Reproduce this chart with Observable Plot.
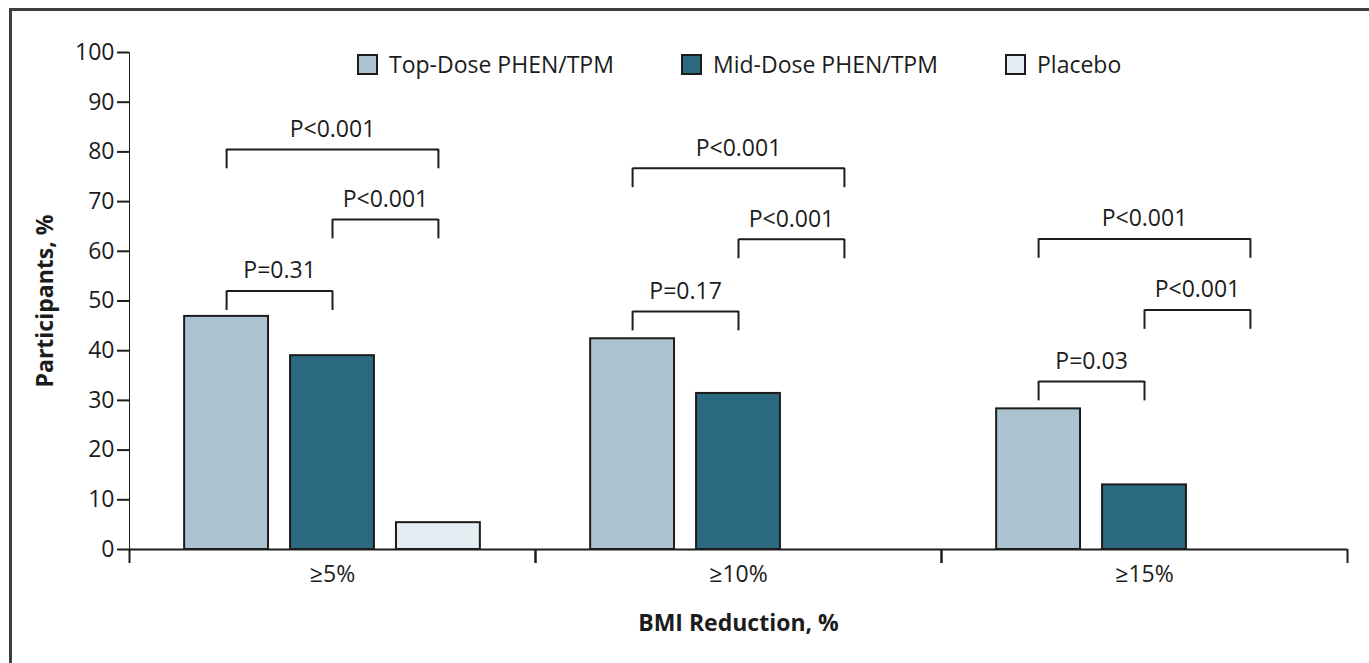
<!DOCTYPE html>
<html>
<head>
<meta charset="utf-8">
<script src="https://cdn.jsdelivr.net/npm/d3@7"></script>
<script src="https://cdn.jsdelivr.net/npm/@observablehq/plot@0.6"></script>
<style>
  html, body { margin: 0; padding: 0; background: #fff; overflow: hidden; }
  #wrap { position: relative; width: 1369px; height: 663px; overflow: hidden; }
  #border { position: absolute; left: 9px; top: 8px; width: 1420px; height: 720px; border: 3px solid #3e3e3e; box-sizing: border-box; }
  #chart { position: absolute; left: 0; top: 0; }
  .item { position: absolute; top: 53px; height: 22px; display: flex; align-items: center; font-family: "Open Sans", sans-serif; font-size: 23px; color: #1c1c1c; white-space: nowrap; }
  .sw { width: 21px; height: 21px; box-sizing: border-box; border: 2px solid #1c1c1c; margin-right: 11px; }
  #chart svg g[aria-label^="y-axis"] path, #chart svg g[aria-label^="y-axis"] line { stroke-width: 2px; }
</style>
</head>
<body>
<div id="wrap">
  <div id="border"></div>
  <div id="chart"></div>
  <div id="legend"></div>
</div>
<script>
// ---- data ----
const groups = ["≥5%", "≥10%", "≥15%"];
const series = ["Top-Dose PHEN/TPM", "Mid-Dose PHEN/TPM", "Placebo"];
const topDose = [46.9, 42.4, 28.3];
const midDose = [39.0, 31.4, 13.0];
const placebo = [5.4, 0, 0];
const colors = ["#abc3d1", "#2b6980", "#e4edf1"];
const yTicks = [0, 10, 20, 30, 40, 50, 60, 70, 80, 90, 100];

// significance brackets (series index from -> to)
const bracketGroup = ["≥5%", "≥5%", "≥5%", "≥10%", "≥10%", "≥10%", "≥15%", "≥15%", "≥15%"];
const bracketFrom = [0, 1, 0, 0, 1, 0, 0, 1, 0];
const bracketTo = [1, 2, 2, 1, 2, 2, 1, 2, 2];
const bracketHeight = [52.0, 66.4, 80.5, 47.9, 62.4, 76.7, 33.8, 48.2, 62.5];
const bracketLabel = ["P=0.31", "P<0.001", "P<0.001", "P=0.17", "P<0.001", "P<0.001", "P=0.03", "P<0.001", "P<0.001"];

// ---- build tables ----
const seriesValues = [topDose, midDose, placebo];
const bars = groups.flatMap((g, gi) => series.map((s, si) => ({group: g, series: s, index: si, value: seriesValues[si][gi]})));
const brackets = bracketGroup.map((g, i) => ({group: g, from: bracketFrom[i], to: bracketTo[i], y: bracketHeight[i], label: bracketLabel[i]}));
const legs = brackets.flatMap(b => [{group: b.group, x: b.from, y: b.y}, {group: b.group, x: b.to, y: b.y}]);

// ---- layout ----
const W = 1369, H = 663, mL = 128, mR = 22, mT = 52, mB = 114;
const plotH = H - mT - mB;
const xDomain = [-0.9167, 2.9167];
const half = 0.396;   // half bar width in series units
const legDrop = 3.9;  // bracket leg length in y units
const ink = "#1c1c1c";

const chart = Plot.plot({
  width: W, height: H,
  marginLeft: mL, marginRight: mR, marginTop: mT, marginBottom: mB,
  style: {fontFamily: "'Open Sans', sans-serif", fontSize: "23px", color: ink, background: "transparent", overflow: "visible"},
  fx: {domain: groups, padding: 0, axis: "bottom", tickSize: 0, tickPadding: 16, label: "BMI Reduction, %", labelAnchor: "center", labelOffset: 81, labelArrow: "none"},
  x: {type: "linear", domain: xDomain, axis: null},
  y: {domain: [0, 100], ticks: yTicks, tickSize: 12, tickPadding: 3, label: "Participants, %", labelAnchor: "center", labelOffset: 93, labelArrow: "none", line: true},
  color: {domain: series, range: colors},
  marks: [
    Plot.rectY(bars, {fx: "group", x1: d => d.index - half, x2: d => d.index + half, y: "value", fill: "series", stroke: ink, strokeWidth: 2}),
    Plot.ruleY([0], {stroke: ink, strokeWidth: 2}),
    Plot.ruleX(xDomain, {insetTop: plotH, insetBottom: -14, stroke: ink, strokeWidth: 2}),
    Plot.link(brackets, {fx: "group", x1: "from", x2: "to", y1: "y", y2: "y", stroke: ink, strokeWidth: 2}),
    Plot.ruleX(legs, {fx: "group", x: "x", y1: "y", y2: d => d.y - legDrop, stroke: ink, strokeWidth: 2}),
    Plot.text(brackets, {fx: "group", x: d => (d.from + d.to) / 2, y: "y", text: "label", dy: -20, fill: ink, fontSize: 23})
  ]
});
document.getElementById("chart").appendChild(chart);

// bold axis titles
d3.select(chart).selectAll("text").each(function () {
  const t = this.textContent.trim();
  if (t.includes("Participants, %") || t.includes("BMI Reduction, %")) d3.select(this).attr("font-weight", "bold");
});

// legend
const legendLeft = [357, 681, 1005];
const legend = document.getElementById("legend");
series.forEach((s, i) => {
  const item = document.createElement("div");
  item.className = "item";
  item.style.left = legendLeft[i] + "px";
  const sw = document.createElement("div");
  sw.className = "sw";
  sw.style.background = colors[i];
  const lab = document.createElement("span");
  lab.textContent = s;
  item.appendChild(sw);
  item.appendChild(lab);
  legend.appendChild(item);
});
</script>
</body>
</html>
